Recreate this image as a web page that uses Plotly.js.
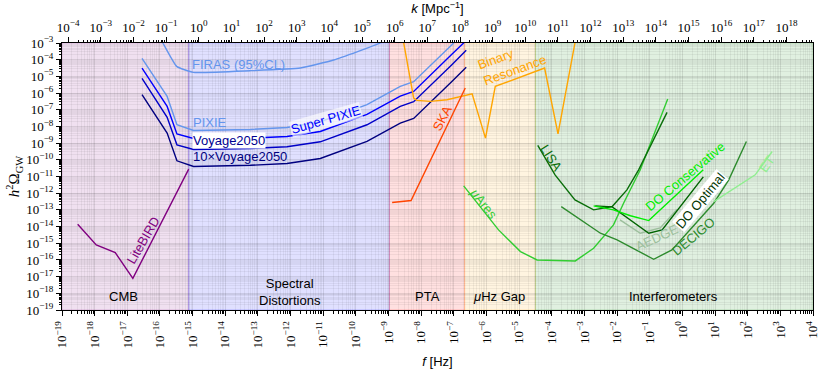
<!DOCTYPE html>
<html><head><meta charset="utf-8">
<script src="https://cdn.plot.ly/plotly-3.0.1.min.js"></script>
<style>body{margin:0;background:#fff}#chart{width:830px;height:369px}</style>
</head><body><div id="chart"></div>
<script>
// ---- axis tick exponents ----
const fExps = [-19,-18,-17,-16,-15,-14,-13,-12,-11,-10,-9,-8,-7,-6,-5,-4,-3,-2,-1,0,1,2,3,4];
const kExps = [-4,-3,-2,-1,0,1,2,3,4,5,6,7,8,9,10,11,12,13,14,15,16,17,18];
const omegaExps = [-19,-18,-17,-16,-15,-14,-13,-12,-11,-10,-9,-8,-7,-6,-5,-4,-3];

// ---- frequency bands [f_low, f_high] in Hz ----
const bandNames = ['CMB', 'Spectral<br>Distortions', 'PTA', '<i>μ</i>Hz Gap', 'Interferometers'];
const bandLow  = [1e-19, 7.59e-16, 1.07e-9, 2.14e-7, 3.16e-5];
const bandHigh = [7.59e-16, 1.07e-9, 2.14e-7, 3.16e-5, 1e4];

// ---- sensitivity curves (f in Hz, h^2 Omega_GW) ----
const litebirdF = [3.02e-19, 1.12e-18, 4.27e-18, 1.48e-17, 7.59e-16];
const litebirdO = [1.38e-14, 7.94e-16, 2.75e-16, 7.94e-18, 2.75e-11];

const firasF = [8.91e-17, 1.23e-16, 3.24e-16, 1.05e-15, 5.75e-14, 2.0e-12, 2.09e-11, 5.50e-10, 1.0e-9];
const firasO = [3.16e-3, 1e-3, 3.98e-5, 1.74e-5, 2.19e-5, 3.16e-5, 9.55e-5, 1e-3, 2.51e-3];

const pixieF = [2.82e-17, 1.66e-16, 3.31e-16, 1.07e-15, 5.89e-14, 7.76e-13, 8.13e-12, 2.19e-10, 2.29e-9, 5.89e-9, 8.71e-8, 1.41e-7];
const pixieO = [1.20e-4, 6.31e-7, 1.26e-8, 5.75e-9, 6.61e-9, 8.71e-9, 1.91e-8, 2.0e-7, 2.51e-6, 4.79e-6, 7.94e-4, 2.0e-3];

const superPixieF = [2.82e-17, 1.66e-16, 3.31e-16, 1.07e-15, 5.89e-14, 7.76e-13, 8.13e-12, 2.19e-10, 2.29e-9, 5.89e-9, 8.71e-8, 3.16e-7];
const superPixieO = [3.16e-5, 1.58e-7, 3.55e-9, 1.91e-9, 2.0e-9, 2.51e-9, 5.01e-9, 5.25e-8, 6.61e-7, 1.26e-6, 2.09e-4, 2.40e-3];

const voyageF = [2.82e-17, 1.66e-16, 3.31e-16, 1.07e-15, 5.89e-14, 7.76e-13, 8.13e-12, 2.19e-10, 2.29e-9, 5.89e-9, 8.71e-8, 2.40e-7];
const voyageO = [7.59e-6, 3.55e-8, 7.94e-10, 4.17e-10, 4.79e-10, 6.03e-10, 1.20e-9, 1.26e-8, 1.58e-7, 3.02e-7, 5.01e-5, 3.63e-4];

const voyage10F = [2.82e-17, 1.66e-16, 3.31e-16, 1.07e-15, 5.89e-14, 7.76e-13, 8.13e-12, 2.19e-10, 2.29e-9, 5.89e-9, 8.71e-8, 2.40e-7];
const voyage10O = [7.94e-7, 3.98e-9, 8.71e-11, 3.98e-11, 4.68e-11, 6.03e-11, 1.20e-10, 1.26e-9, 1.58e-8, 3.02e-8, 5.01e-6, 3.47e-5];

const binaryF = [2.63e-9, 5.89e-9, 7.41e-9, 1.91e-8, 6.17e-8, 3.63e-7, 9.33e-7, 1.86e-6, 6.03e-5, 1.55e-4, 5.01e-4, 5.75e-4];
const binaryO = [3.16e-3, 5.01e-7, 3.63e-7, 3.16e-7, 3.98e-7, 9.12e-7, 2.0e-9, 2.51e-6, 3.16e-5, 3.63e-9, 7.94e-4, 3.16e-3];

const skaF = [1.29e-9, 4.90e-9, 2.24e-7];
const skaO = [2.75e-13, 3.63e-13, 2.0e-6];

const muAresF = [2.0e-7, 2.34e-6, 1.10e-5, 3.55e-5, 5.25e-4, 1.91e-3, 7.76e-3, 1.58e-2, 5.13e-2, 0.355];
const muAresO = [2.75e-12, 6.31e-15, 3.16e-16, 1e-16, 8.71e-17, 5.01e-16, 1.26e-14, 2.51e-13, 2.51e-11, 4.37e-7];

const lisaF = [3.72e-5, 1.26e-4, 5.13e-4, 1.91e-3, 7.08e-3, 2.0e-2, 4.57e-2, 0.339];
const lisaO = [7.24e-10, 1.26e-11, 3.98e-13, 1e-13, 1.58e-13, 1.58e-12, 2.51e-11, 6.92e-8];

const doConsF = [1.91e-3, 7.76e-3, 2.57e-2, 9.33e-2, 4.37];
const doConsO = [1.74e-13, 1e-13, 4.47e-14, 2.29e-14, 2.51e-11];

const doOptF = [2.14e-3, 7.08e-3, 9.33e-2, 0.240, 4.37];
const doOptO = [1.74e-13, 1.51e-13, 3.98e-15, 6.31e-15, 9.55e-12];

const aedgeF = [1.23e-2, 5.13e-2, 0.209, 0.692];
const aedgeO = [2.51e-14, 3.98e-15, 8.32e-15, 1.10e-13];

const decigoF = [1.95e-4, 3.09e-3, 1e-2, 0.132, 0.479, 9.12, 26.3, 91.2];
const decigoO = [1.58e-13, 3.98e-15, 1.58e-15, 1.10e-16, 3.98e-16, 2.51e-13, 6.31e-12, 1.26e-9];

const etF = [9.12, 170, 562];
const etO = [3.16e-13, 1.26e-11, 3.16e-10];

// ---- helpers ----
function pow10Label(e){ return '10<sup>' + (e < 0 ? '\u2212' + (-e) : e) + '</sup>'; }
function minorVals(exps){ const v=[]; for(const e of exps){ for(let d=2; d<=9; d++) v.push(d*Math.pow(10,e)); } return v; }
function line(x, y, color, smooth){
  const l = {color:color, width:1.4};
  if(smooth){ l.shape='spline'; l.smoothing=0.4; }
  return {x:x, y:y, mode:'lines', line:l, hoverinfo:'skip', showlegend:false};
}

const traces = [
  line(litebirdF, litebirdO, '#800080'),
  line(firasF, firasO, '#6495ed', true),
  line(pixieF, pixieO, '#6495ed'),
  line(superPixieF, superPixieO, '#0000ff'),
  line(voyageF, voyageO, '#0000c8'),
  line(voyage10F, voyage10O, '#000080'),
  line(binaryF, binaryO, '#ffa500'),
  line(skaF, skaO, '#ff4500'),
  line(muAresF, muAresO, '#32cd32'),
  line(lisaF, lisaO, '#0a6e0a'),
  line(aedgeF, aedgeO, '#9cbf9c'),
  line(decigoF, decigoO, '#2e8b2e'),
  line(doOptF, doOptO, '#006400'),
  line(doConsF, doConsO, '#00ee00'),
  line(etF, etO, '#90ee90'),
  {x:[1e-4,1e18], y:[1e-10,1e-10], xaxis:'x2', yaxis:'y', mode:'markers', marker:{opacity:0}, hoverinfo:'skip', showlegend:false}
];

const bandColors = ['128,0,128', '0,0,255', '255,0,0', '255,165,0', '0,128,0'];
const shapes = bandLow.map((lo, i) => ({
  type:'rect', xref:'x', yref:'paper', x0:lo, x1:bandHigh[i], y0:0, y1:1,
  fillcolor:'rgba(' + bandColors[i] + ',0.12)', line:{color:'rgba(' + bandColors[i] + ',0.22)', width:1}, layer:'below'
}));

const sans = 'Liberation Sans, Arial, sans-serif';
const serif = 'Liberation Serif, DejaVu Serif, serif';
function ann(text, lx, ly, color, angle, extra){
  return Object.assign({text:text, x:lx, y:ly, xref:'x', yref:'y', showarrow:false, textangle:angle||0,
    font:{family:sans, size:13, color:color}}, extra||{});
}
const bandLabelX = [-17.12, -12.02, -7.81, -5.61, -0.28];
const bandLabelY = [-18.22, -17.92, -18.22, -18.22, -18.22];
const annotations = bandNames.map((n,i)=>ann(n, bandLabelX[i], bandLabelY[i], '#000', 0));
annotations.push(
  ann('FIRAS (95%CL)', -13.58, -4.30, '#6495ed', 0),
  ann('PIXIE', -14.48, -7.74, '#6495ed', 0),
  ann('Super PIXIE', -10.90, -7.61, '#0000ff', -16, {bgcolor:'rgba(255,255,255,0.6)', borderpad:0}),
  ann('Voyage2050', -13.89, -8.87, '#000090', 0, {bgcolor:'#ffffff', borderpad:0}),
  ann('10\u00d7Voyage2050', -13.55, -9.82, '#000080', 0),
  ann('LiteBIRD', -16.52, -14.82, '#800080', -60),
  ann('SKA', -7.36, -7.51, '#ff4500', -63),
  ann('Binary<br>Resonance', -5.21, -4.13, '#ffa500', -20, {align:'left'}),
  ann('<i>μ</i>Ares', -6.09, -12.62, '#32cd32', 52),
  ann('LISA', -4.00, -9.90, '#0a6e0a', 58),
  ann('DO Conservative', 0.09, -11.02, '#00ee00', -40),
  ann('DO Optimal', 0.55, -12.42, '#003300', -50, {bgcolor:'#ffffff', borderpad:0}),
  ann('AEDGE', -0.78, -14.64, '#9cbf9c', -25),
  ann('DECIGO', 0.34, -14.60, '#2e8b2e', -40),
  ann('ET', 2.59, -10.20, '#90ee90', -55)
);

const gridMajor = 'rgba(0,0,0,0.10)';
const gridMinor = 'rgba(0,0,0,0.05)';
const layout = {
  width:830, height:369,
  margin:{l:62, r:17, t:43, b:59},
  paper_bgcolor:'#ffffff', plot_bgcolor:'#ffffff',
  font:{family:serif, size:13, color:'#000'},
  xaxis:{
    type:'log', range:[-19,4], autorange:false,
    tickmode:'array', tickvals:fExps.map(e=>Math.pow(10,e)), ticktext:fExps.map(pow10Label),
    tickangle:-90, ticks:'outside', ticklen:5, tickcolor:'#000', tickfont:{family:serif, size:13},
    showline:true, linecolor:'#000', linewidth:1, zeroline:false,
    showgrid:true, gridcolor:gridMajor, gridwidth:1,
    minor:{tickmode:'array', tickvals:minorVals(fExps), ticks:'outside', ticklen:2.5, tickcolor:'#000', showgrid:true, gridcolor:gridMinor},
    title:{text:'<i>f</i> [Hz]', font:{family:sans, size:13}, standoff:10}
  },
  xaxis2:{
    type:'log', overlaying:'x', side:'top', range:[-4.189, 18.811], autorange:false,
    tickmode:'array', tickvals:kExps.map(e=>Math.pow(10,e)), ticktext:kExps.map(pow10Label),
    ticks:'outside', ticklen:5, tickcolor:'#000', tickfont:{family:serif, size:13},
    showline:true, linecolor:'#000', linewidth:1, zeroline:false, showgrid:false,
    minor:{tickmode:'array', tickvals:minorVals(kExps), ticks:'outside', ticklen:2.5, tickcolor:'#000', showgrid:false},
    title:{text:'<i>k</i> [Mpc<sup>\u22121</sup>]', font:{family:sans, size:13}, standoff:3}
  },
  yaxis:{
    type:'log', range:[-19,-3], autorange:false,
    tickmode:'array', tickvals:omegaExps.map(e=>Math.pow(10,e)), ticktext:omegaExps.map(pow10Label),
    ticks:'outside', ticklen:5, tickcolor:'#000', tickfont:{family:serif, size:13},
    showline:true, linecolor:'#000', linewidth:1, mirror:true, zeroline:false,
    showgrid:true, gridcolor:gridMajor, gridwidth:1,
    minor:{tickmode:'array', tickvals:minorVals(omegaExps), ticks:'outside', ticklen:2.5, tickcolor:'#000', showgrid:true, gridcolor:gridMinor},
    title:{text:'<i>h</i><sup>2</sup>Ω<sub>GW</sub>', font:{family:serif, size:15}, standoff:2}
  },
  shapes:shapes,
  annotations:annotations
};
Plotly.newPlot('chart', traces, layout, {staticPlot:true, displayModeBar:false});
</script></body></html>
